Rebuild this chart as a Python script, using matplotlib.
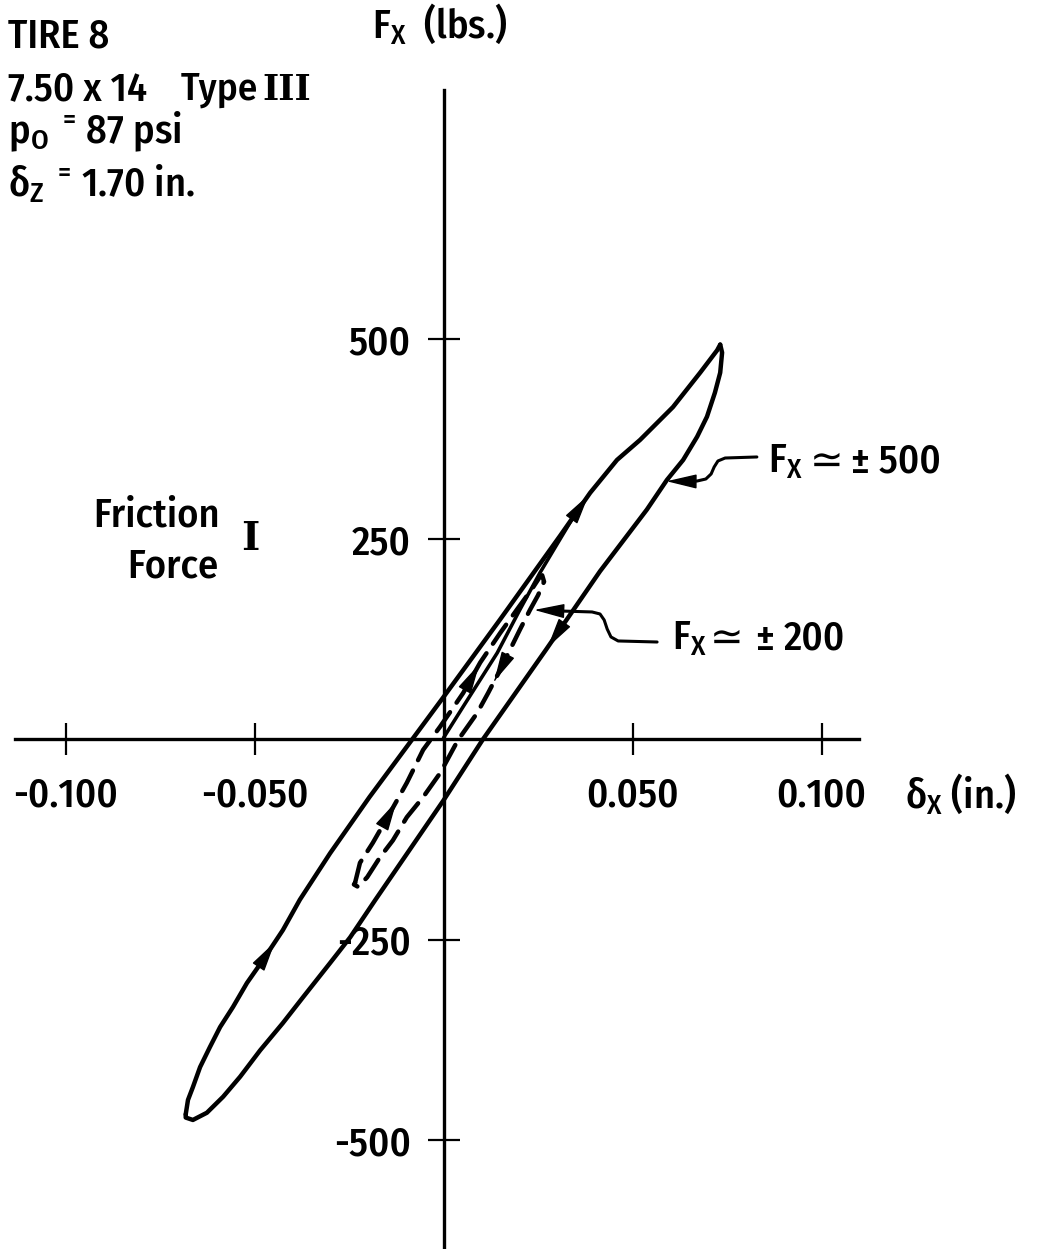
import matplotlib
matplotlib.use("Agg")
import matplotlib.pyplot as plt

# ------------------------------------------------------------
# DATA  (deflection dx in inches, friction force Fx in lbs)
# ------------------------------------------------------------
# large cycle, Fx ~ +/-500 : loading branch, bottom tip -> top tip
big_up_dx = [-0.0682, -0.0676, -0.0663, -0.0644, -0.0618, -0.0591, -0.0557,
             -0.0520, -0.0477, -0.0425, -0.0380, -0.0300, -0.0196, -0.0083,
             0.0000, 0.0150, 0.0308, 0.0388, 0.0459, 0.0520, 0.0607, 0.0679,
             0.0724, 0.0732]
big_up_fx = [-468, -450, -434, -409, -384, -359, -334,
             -304, -275, -238, -200, -142, -72, 0,
             53, 150, 254, 308, 349, 374, 415, 458,
             486, 493]
# large cycle : unloading branch, top tip -> bottom tip
big_dn_dx = [0.0732, 0.0737, 0.0732, 0.0718, 0.0697, 0.0671, 0.0634, 0.0591,
             0.0538, 0.0414, 0.0271, 0.0104, 0.0000, -0.0180, -0.0247,
             -0.0300, -0.0372, -0.0425, -0.0485, -0.0538, -0.0583, -0.0626,
             -0.0663, -0.0682, -0.0682]
big_dn_fx = [493, 483, 458, 433, 403, 378, 349, 324,
             287, 210, 112, 0, -76, -200, -247,
             -279, -322, -354, -388, -421, -446, -466,
             -475, -472, -468]
# first loading from rest, joins the large cycle
start_dx = [0.0000, 0.0052, 0.0142, 0.0202, 0.0255, 0.0298, 0.0340]
start_fx = [2, 41, 108, 162, 208, 242, 275]

# small cycle, Fx ~ +/-200 (dashed)
small_up_dx = [-0.0234, -0.0221, -0.0187, -0.0142, -0.0097, -0.0054, -0.0009,
               0.0052, 0.0097, 0.0150, 0.0194, 0.0237, 0.0255, 0.0261]
small_up_fx = [-179, -154, -129, -92, -54, -13, 16,
               58, 96, 133, 162, 190, 203, 205]
small_dn_dx = [0.0261, 0.0266, 0.0250, 0.0229, 0.0202, 0.0176, 0.0150, 0.0118,
               0.0089, 0.0038, -0.0009, -0.0054, -0.0097, -0.0134, -0.0168,
               -0.0202, -0.0226, -0.0237, -0.0234]
small_dn_fx = [205, 197, 180, 162, 137, 112, 87, 58,
               33, -1, -42, -72, -97, -126, -147,
               -172, -184, -181, -179]

x_ticks = [-0.100, -0.050, 0.050, 0.100]
x_ticklabels = ["-0.100", "-0.050", "0.050", "0.100"]
y_ticks = [-500, -250, 250, 500]
y_ticklabels = ["-500", "-250", "250", "500"]

# ------------------------------------------------------------
# STYLE
# ------------------------------------------------------------
FONT = ["Fira Sans Condensed", "DejaVu Sans"]
ROMAN = ["DejaVu Serif", "DejaVu Sans"]
plt.rcParams["font.family"] = FONT
plt.rcParams["font.weight"] = 500
plt.rcParams["mathtext.fontset"] = "custom"
plt.rcParams["mathtext.rm"] = "Fira Sans Condensed:medium"
plt.rcParams["mathtext.it"] = "Fira Sans Condensed:medium"
plt.rcParams["mathtext.fallback"] = "stixsans"
FS = 29
LW = 3.2

fig = plt.figure(figsize=(10.42, 12.49), dpi=100)
ax = fig.add_axes([0, 0, 1, 1])
ax.set_xlim(-0.11733, 0.15833)
ax.set_ylim(-636.1, 923.2)

for side in ("top", "right"):
    ax.spines[side].set_visible(False)
ax.spines["bottom"].set_position(("data", 0))
ax.spines["left"].set_position(("data", 0))
ax.spines["bottom"].set_bounds(-0.1134, 0.1098)
ax.spines["left"].set_bounds(-640, 811)
for side in ("bottom", "left"):
    ax.spines[side].set_linewidth(2.4)

ax.set_xticks(x_ticks)
ax.set_xticklabels(x_ticklabels)
ax.set_yticks(y_ticks)
ax.set_yticklabels(y_ticklabels)
ax.tick_params(axis="both", direction="inout", length=23, width=1.6,
               labelsize=FS)
ax.tick_params(axis="x", pad=15)
ax.tick_params(axis="y", pad=12)

# ------------------------------------------------------------
# CURVES
# ------------------------------------------------------------
ax.plot(big_up_dx, big_up_fx, color="k", lw=LW, solid_capstyle="round",
        solid_joinstyle="round")
ax.plot(big_dn_dx, big_dn_fx, color="k", lw=LW, solid_capstyle="round",
        solid_joinstyle="round")
ax.plot(start_dx, start_fx, color="k", lw=LW * 0.8, solid_capstyle="round")
ax.plot(small_up_dx + small_dn_dx[1:], small_up_fx + small_dn_fx[1:],
        color="k", lw=LW, dashes=(5.2, 2.6), dash_capstyle="round")

HEAD = "-|>,head_length=1.9,head_width=0.45"


def head_on(xs, ys, i, frac=0.6):
    # arrow head sitting on segment i of a branch, pointing along it
    x0, y0 = xs[i], ys[i]
    x1, y1 = xs[i + 1], ys[i + 1]
    tip = (x0 + frac * (x1 - x0), y0 + frac * (y1 - y0))
    tail = (x0 + (frac - 0.05) * (x1 - x0), y0 + (frac - 0.05) * (y1 - y0))
    ax.annotate("", xy=tip, xytext=tail,
                arrowprops=dict(arrowstyle=HEAD, color="k", lw=1,
                                shrinkA=0, shrinkB=0))


head_on(big_up_dx, big_up_fx, 8, 0.6)
head_on(big_up_dx, big_up_fx, 16, 0.95)
head_on(big_dn_dx, big_dn_fx, 9, 0.97)
head_on(small_up_dx, small_up_fx, 3, 0.4)
head_on(small_up_dx, small_up_fx, 7, 0.95)
head_on(small_dn_dx, small_dn_fx, 6, 0.5)

# ------------------------------------------------------------
# LEADERS + LABELS
# ------------------------------------------------------------
lead500_x = [0.0829, 0.0745, 0.0726, 0.0716, 0.0708, 0.0694, 0.0671, 0.0640]
lead500_y = [352.7, 351.4, 347.7, 340.2, 331.5, 325.2, 322.7, 322.2]
ax.plot(lead500_x, lead500_y, color="k", lw=2.2, solid_joinstyle="round",
        solid_capstyle="round")
ax.annotate("", xy=(0.0590, 322.4), xytext=(0.0645, 322.2),
            arrowprops=dict(arrowstyle=HEAD, color="k", lw=1,
                            shrinkA=0, shrinkB=0))

lead200_x = [0.0565, 0.0462, 0.0443, 0.0433, 0.0425, 0.0414, 0.0393, 0.0310]
lead200_y = [121.7, 123.0, 128.0, 137.9, 149.2, 156.7, 159.2, 160.4]
ax.plot(lead200_x, lead200_y, color="k", lw=2.2, solid_joinstyle="round",
        solid_capstyle="round")
ax.annotate("", xy=(0.0240, 161.7), xytext=(0.0315, 160.4),
            arrowprops=dict(arrowstyle=HEAD, color="k", lw=1,
                            shrinkA=0, shrinkB=0))

T = ax.transAxes
W, H = 1042.0, 1249.0


def put(px, py, s, **kw):
    kw.setdefault("fontsize", FS)
    kw.setdefault("va", "baseline")
    ax.text(px / W, 1 - py / H, s, transform=T, **kw)


put(8, 47, "TIRE 8")
put(8, 100, "7.50 x 14")
put(181, 100, "Type", fontsize=28)
put(262, 100, "III", family=ROMAN, fontsize=25, weight="bold")
put(8, 143, r"p$_\mathrm{O}$ $^{=}\,$87 psi")
put(8, 197, r"δ$_\mathrm{Z}$ $^{=}\,$1.70 in.")

put(372, 38, r"F$_\mathrm{X}$  (lbs.)")
put(905, 808, r"δ$_\mathrm{X}$ (in.)")

put(220, 527, "Friction", ha="right")
put(218, 577, "Force", ha="right")
put(250, 550, "I", ha="center", family=ROMAN, fontsize=28, weight="bold")

put(768, 473, r"F$_\mathrm{X}$")
put(810, 473, "≃", family="DejaVu Sans", weight="normal")
put(851, 473, "± 500")
put(672, 650, r"F$_\mathrm{X}$")
put(710, 650, "≃", family="DejaVu Sans", weight="normal")
put(755, 650, "±")
put(784, 650, "200")

fig.savefig("out.png", dpi=100)
